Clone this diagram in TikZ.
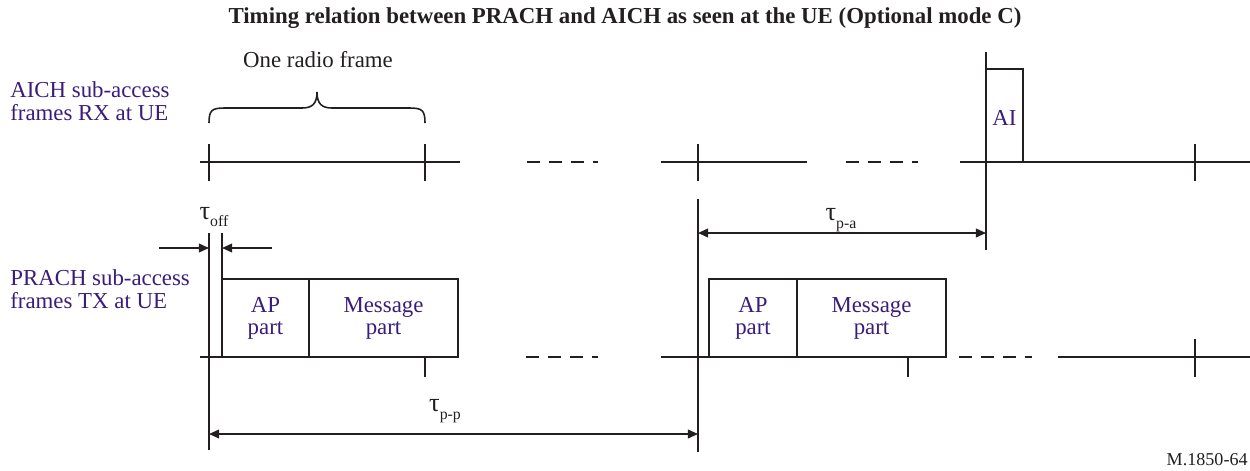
\documentclass[tikz,border=0pt]{standalone}
\usepackage{fontspec}
\setmainfont{Liberation Serif}
\usetikzlibrary{arrows.meta}
\definecolor{lbl}{RGB}{58,28,122}
\definecolor{ink}{RGB}{35,31,32}
\newcommand\tauwith[1]{{\fontsize{15}{15}\selectfont τ}\raisebox{-4.5pt}{\fontsize{9}{9}\selectfont #1}}
\begin{document}
\begin{tikzpicture}[x=0.02cm,y=-0.02cm,
  ln/.style={draw=ink,line width=1.05pt},
  bx/.style={draw=ink,line width=0.9pt},
  dsh/.style={draw=ink,line width=1.05pt,dash pattern=on 7.4pt off 5.1pt},
  arr/.style={draw=ink,line width=0.95pt,-{Triangle[length=5.8pt,width=5pt]}},
  darr/.style={draw=ink,line width=0.95pt,{Triangle[length=5.8pt,width=5pt]}-{Triangle[length=5.8pt,width=5pt]}},
  lab/.style={font=\fontsize{13}{13}\selectfont,text=lbl,align=left,inner sep=0pt,anchor=west},
  part/.style={font=\fontsize{13}{12.5}\selectfont,text=lbl,align=center,inner sep=0pt},
  blk/.style={font=\fontsize{13}{13}\selectfont,text=ink,inner sep=0pt},
  tau/.style={text=ink,inner sep=0pt}
]
\useasboundingbox (0,0) rectangle (1250,470);

% title
\node[blk,font=\fontsize{13}{13}\selectfont\bfseries] (title) at (625,18) {Timing relation between PRACH and AICH as seen at the UE (Optional mode C)};

% row labels
\node[lab] (aichlab) at (10,101) {AICH sub-access\\frames RX at UE};
\node[lab] (prachlab) at (10,289) {PRACH sub-access\\frames TX at UE};

% one radio frame
\node[blk] (orf) at (318,60) {One radio frame};
\draw[ln,line width=0.9pt] (209,123) .. controls (209,110) and (212,108) .. (225,108) -- (302,108)
  .. controls (312,108) and (317,104) .. (317,92)
  .. controls (317,104) and (322,108) .. (332,108) -- (409,108)
  .. controls (422,108) and (425,110) .. (425,123);

% AICH timeline
\draw[ln] (200,162) -- (460,162);
\draw[dsh] (527,162) -- (598,162);
\draw[ln] (661,162) -- (807,162);
\draw[dsh] (846,162) -- (918,162);
\draw[ln] (960,162) -- (1250,162);
\foreach \x in {209,425,698,1195} \draw[ln] (\x,144) -- (\x,181);

% AI box
\draw[bx] (986,162) rectangle (1023,69);
\node[part] (ai) at (1004.5,118) {AI};
\draw[ln] (986,52) -- (986,250);

% PRACH timeline
\draw[ln] (200,357) -- (458,357);
\draw[dsh] (526,357) -- (598,357);
\draw[ln] (661,357) -- (946,357);
\draw[dsh] (959,357) -- (1032,357);
\draw[ln] (1058,357) -- (1250,357);
\foreach \x in {425,908} \draw[ln] (\x,357) -- (\x,377);
\draw[ln] (1195,339) -- (1195,377);

% first PRACH burst
\draw[bx] (222,279) rectangle (458,357);
\draw[bx] (309,279) -- (309,357);
\node[part] (ap1) at (265.5,318) {AP\\part};
\node[part] (msg1) at (383.5,318) {Message\\part};

% second PRACH burst
\draw[bx] (709,279) rectangle (946,357);
\draw[bx] (797,279) -- (797,357);
\node[part] (ap2) at (753,318) {AP\\part};
\node[part] (msg2) at (871.5,318) {Message\\part};

% reference verticals
\draw[ln] (209,233) -- (209,450);
\draw[ln] (222,233) -- (222,279);
\draw[ln] (698,199) -- (698,452);

% tau off
\coordinate (toffL) at (159,248);
\coordinate (toffLe) at (209,248);
\coordinate (toffR) at (272,248);
\coordinate (toffRe) at (222,248);
\draw[arr] (toffL) -- (toffLe);
\draw[arr] (toffR) -- (toffRe);
\node[tau] (toff) at (214,217) {\tauwith{off}};

% tau p-a
\coordinate (paL) at (698,233);
\coordinate (paR) at (986,233);
\draw[darr] (paL) -- (paR);
\node[tau] (tpa) at (841,220) {\tauwith{p-a}};

% tau p-p
\coordinate (ppL) at (209,434);
\coordinate (ppR) at (698,434);
\draw[darr] (ppL) -- (ppR);
\node[tau] (tpp) at (445,411) {\tauwith{p-p}};

% figure id
\node[blk,font=\fontsize{10.3}{11}\selectfont,anchor=east] (fid) at (1248,460) {M.1850-64};
\end{tikzpicture}
\end{document}
